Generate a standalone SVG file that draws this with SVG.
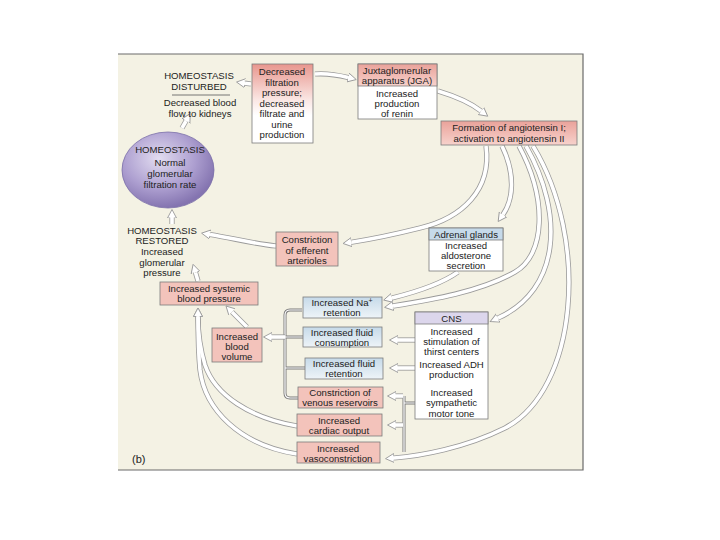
<svg xmlns="http://www.w3.org/2000/svg" width="720" height="540" viewBox="0 0 720 540">
<defs>
<style>
text{font-family:"Liberation Sans",Arial,sans-serif;font-size:9.6px;fill:#222;text-anchor:middle}
.box{stroke:#7c7c7c;stroke-width:0.8}
.pink{fill:#f3c3bb}
.o{fill:none;stroke:#9a9a9a;stroke-width:5.2}
.i{fill:none;stroke:#fff;stroke-width:3.6;marker-end:url(#ah)}
.bo{fill:none;stroke:#7a7a7a;stroke-width:3}
.bi{fill:none;stroke:#fff;stroke-width:1.2}
</style>
<linearGradient id="gDec" x1="0" y1="0" x2="0" y2="1">
<stop offset="0" stop-color="#e8968e"/><stop offset="0.45" stop-color="#fae6e3"/><stop offset="0.65" stop-color="#fff"/><stop offset="1" stop-color="#fff"/>
</linearGradient>
<linearGradient id="gRed" x1="0" y1="0" x2="0" y2="1">
<stop offset="0" stop-color="#eaa29a"/><stop offset="1" stop-color="#f7d2cc"/>
</linearGradient>
<linearGradient id="gBlue" x1="0" y1="0" x2="0" y2="1">
<stop offset="0" stop-color="#c6dae9"/><stop offset="1" stop-color="#eef4f8"/>
</linearGradient>
<radialGradient id="gBall" cx="0.4" cy="0.35" r="0.65">
<stop offset="0" stop-color="#e2dcf0"/><stop offset="0.6" stop-color="#ad9fd0"/><stop offset="1" stop-color="#8474b0"/>
</radialGradient>
<marker id="ah" markerUnits="userSpaceOnUse" markerWidth="12" markerHeight="12" refX="0" refY="6" orient="auto" viewBox="0 0 12 12">
<path d="M0,1.5 L8.5,6 L0,10.5 Z" fill="#fff"/>
<path d="M0,4.2 V1.5 L8.5,6 L0,10.5 V7.8" fill="none" stroke="#9a9a9a" stroke-width="0.9"/>
</marker>
<path id="c1" d="M251,84 L245,83.2"/>
<path id="c2" d="M182,128 L186,121"/>
<path id="c3" d="M172,224 L172,218"/>
<path id="c4" d="M276,246 C255,244 232,238 210,234.5"/>
<path id="c5" d="M198,281 L195.5,272.5"/>
<path id="c6" d="M247,327 L232,312"/>
<path id="c7" d="M315,74 C328,73 338,75 348,77.5"/>
<path id="c8" d="M438,91 C458,97 472,104 481,111"/>
<path id="c9" d="M486,146 C492,190 462,218 420,228 C392,235 366,240 351.5,242.2"/>
<path id="c10" d="M502,146 C516,175 513,200 503,214.5"/>
<path id="c11" d="M458,272 C440,285 412,293 392,298"/>
<path id="c12" d="M519,146 C548,200 545,255 515,272 C480,292 430,300 393,306"/>
<path id="c13" d="M526,146 C565,215 560,290 498,318"/>
<path id="c14" d="M533,146 C590,240 578,390 505,428 C465,448 420,456 394,458"/>
<path id="c15" d="M415,340 L398,340"/>
<path id="c16" d="M415,368 L398,368"/>
<path id="c17" d="M403,396 L396,396"/>
<path id="c18" d="M403,425 L396,425"/>
<path id="c19" d="M285,337 L272,337"/>
<path id="c20" d="M297,426 C250,418 215,395 205,365 C199,345 198,330 198,316.5"/>
<path id="c21" d="M297,454 C240,445 205,410 200,370 C198,350 198,330 198,316.5"/>
<path id="b1" d="M302,310 L290,310 Q285,310 285,315 L285,393 Q285,398 290,398 L298,398 M303,337 L285,337 M305,368 L285,368"/>
<path id="b2" d="M415,403 L404,403 M404,396 L404,452"/>
</defs>

<rect x="0" y="0" width="720" height="540" fill="#fff"/>
<rect x="118" y="54" width="465" height="416" fill="#f4f2e4"/>
<path d="M118,54 H583 V470 H118" fill="none" stroke="#6a6a6a" stroke-width="1.2"/>

<g id="connectors">
<g class="bo"><use href="#b1"/><use href="#b2"/></g>
<g class="bi"><use href="#b1"/><use href="#b2"/></g>
<g class="o">
<use href="#c1"/><use href="#c2"/><use href="#c3"/><use href="#c4"/><use href="#c5"/><use href="#c6"/><use href="#c7"/><use href="#c8"/><use href="#c9"/><use href="#c10"/><use href="#c11"/><use href="#c12"/><use href="#c13"/><use href="#c14"/><use href="#c15"/><use href="#c16"/><use href="#c17"/><use href="#c18"/><use href="#c19"/><use href="#c20"/><use href="#c21"/>
</g>
<g class="i">
<use href="#c1"/><use href="#c2"/><use href="#c3"/><use href="#c4"/><use href="#c5"/><use href="#c6"/><use href="#c7"/><use href="#c8"/><use href="#c9"/><use href="#c10"/><use href="#c11"/><use href="#c12"/><use href="#c13"/><use href="#c14"/><use href="#c15"/><use href="#c16"/><use href="#c17"/><use href="#c18"/><use href="#c19"/><use href="#c20"/><use href="#c21"/>
</g>
</g>

<g id="disturbed">
<text x="199" y="79">HOMEOSTASIS</text>
<text x="199" y="90">DISTURBED</text>
<line x1="172" y1="95" x2="230" y2="95" stroke="#555" stroke-width="0.8"/>
<text x="200" y="106">Decreased blood</text>
<text x="200" y="116.5">flow to kidneys</text>
</g>

<g id="homeostasis">
<ellipse cx="168" cy="170" rx="46" ry="38" fill="url(#gBall)" stroke="#7a6ea8" stroke-width="0.8"/>
<text x="170" y="153">HOMEOSTASIS</text>
<text x="170" y="166">Normal</text>
<text x="170" y="177">glomerular</text>
<text x="170" y="188">filtration rate</text>
</g>

<g id="restored">
<text x="162" y="234">HOMEOSTASIS</text>
<text x="162" y="244">RESTORED</text>
<text x="162" y="255">Increased</text>
<text x="162" y="265.5">glomerular</text>
<text x="162" y="276">pressure</text>
</g>

<g id="decreased">
<rect class="box" x="252" y="64" width="61" height="79" fill="url(#gDec)"/>
<text x="282" y="75">Decreased</text>
<text x="282" y="85.5">filtration</text>
<text x="282" y="96">pressure;</text>
<text x="282" y="106.5">decreased</text>
<text x="282" y="117">filtrate and</text>
<text x="282" y="127.5">urine</text>
<text x="282" y="138">production</text>
</g>

<g id="jga">
<rect class="box" x="358" y="64" width="79" height="55" fill="#fff"/>
<rect class="box" x="358" y="64" width="79" height="22" fill="url(#gRed)"/>
<text x="397" y="74">Juxtaglomerular</text>
<text x="397" y="84">apparatus (JGA)</text>
<text x="397" y="97">Increased</text>
<text x="397" y="107">production</text>
<text x="397" y="117">of renin</text>
</g>

<g id="formation">
<rect class="box" x="441" y="121" width="136" height="24" fill="url(#gRed)"/>
<text x="509" y="131">Formation of angiotensin I;</text>
<text x="509" y="142">activation to angiotensin II</text>
</g>

<g id="efferent">
<rect class="box pink" x="276" y="232" width="62" height="34"/>
<text x="307" y="243">Constriction</text>
<text x="307" y="253.5">of efferent</text>
<text x="307" y="264">arterioles</text>
</g>

<g id="adrenal">
<rect class="box" x="429" y="228" width="74" height="43" fill="#fff"/>
<rect class="box" x="429" y="228" width="74" height="12" fill="#c6daea"/>
<text x="466" y="237.5">Adrenal glands</text>
<text x="466" y="249">Increased</text>
<text x="466" y="259">aldosterone</text>
<text x="466" y="269">secretion</text>
</g>

<g id="systemic">
<rect class="box pink" x="160" y="282" width="98" height="23"/>
<text x="209" y="292">Increased systemic</text>
<text x="209" y="302">blood pressure</text>
</g>

<g id="volume">
<rect class="box pink" x="212" y="328" width="50" height="34"/>
<text x="237" y="340">Increased</text>
<text x="237" y="350">blood</text>
<text x="237" y="360">volume</text>
</g>

<g id="na">
<rect class="box" x="303" y="297" width="79" height="21" fill="url(#gBlue)"/>
<text x="342" y="306">Increased Na<tspan dy="-3" font-size="7">+</tspan></text>
<text x="342" y="316">retention</text>
</g>

<g id="consumption">
<rect class="box" x="303" y="327" width="79" height="20" fill="url(#gBlue)"/>
<text x="342" y="336">Increased fluid</text>
<text x="342" y="346">consumption</text>
</g>

<g id="retention">
<rect class="box" x="305" y="358" width="78" height="21" fill="url(#gBlue)"/>
<text x="344" y="367">Increased fluid</text>
<text x="344" y="377">retention</text>
</g>

<g id="venous">
<rect class="box pink" x="298" y="387" width="85" height="21"/>
<text x="340" y="396">Constriction of</text>
<text x="340" y="406">venous reservoirs</text>
</g>

<g id="cardiac">
<rect class="box pink" x="297" y="414" width="85" height="22"/>
<text x="339" y="424">Increased</text>
<text x="339" y="434">cardiac output</text>
</g>

<g id="vaso">
<rect class="box pink" x="297" y="442" width="83" height="21"/>
<text x="338" y="452">Increased</text>
<text x="338" y="462">vasoconstriction</text>
</g>

<g id="cns">
<rect class="box" x="415" y="312" width="73" height="107" fill="#fff"/>
<rect class="box" x="415" y="312" width="73" height="12" fill="#dcd6ec"/>
<text x="451.5" y="321.5">CNS</text>
<text x="451.5" y="335">Increased</text>
<text x="451.5" y="345">stimulation of</text>
<text x="451.5" y="355">thirst centers</text>
<text x="451.5" y="368">Increased ADH</text>
<text x="451.5" y="378">production</text>
<text x="451.5" y="396">Increased</text>
<text x="451.5" y="406">sympathetic</text>
<text x="451.5" y="417">motor tone</text>
</g>

<text x="132" y="463" style="text-anchor:start;font-size:11px">(b)</text>
</svg>
